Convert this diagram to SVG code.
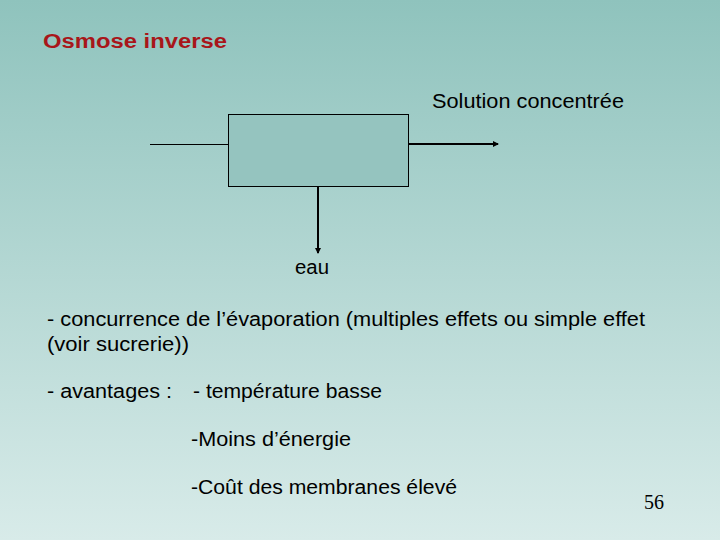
<svg xmlns="http://www.w3.org/2000/svg" width="720" height="540" viewBox="0 0 720 540">
<defs>
<linearGradient id="bg" x1="0" y1="0" x2="0" y2="1"><stop offset="0" stop-color="#8fc3bd"/><stop offset="1" stop-color="#d8ebe9"/></linearGradient>
<marker id="ah" markerWidth="6" markerHeight="6" refX="5" refY="3" orient="auto" markerUnits="userSpaceOnUse"><path d="M0,0 L6,3 L0,6 Z" fill="#000"/></marker>
<style>
text{font-family:"Liberation Sans",Arial,sans-serif;fill:#000;font-size:20px}
.c{stroke:#000;fill:none}
</style>
</defs>
<rect width="720" height="540" fill="url(#bg)"/>
<text x="43" y="48" font-size="22" font-weight="bold" textLength="184" lengthAdjust="spacingAndGlyphs" style="fill:#a8161a">Osmose inverse</text>
<g id="box"><rect x="228.5" y="114.5" width="180" height="72" fill="#95c4bf" stroke="#000" stroke-width="1"/></g>
<g id="connectors">
<line class="c" x1="150" y1="144.5" x2="228" y2="144.5" stroke-width="1"/>
<line class="c" x1="409" y1="144" x2="498" y2="144" stroke-width="2" marker-end="url(#ah)"/>
<line class="c" x1="318" y1="187" x2="318" y2="253" stroke-width="2" marker-end="url(#ah)"/>
</g>
<g id="labels">
<text x="432" y="108" textLength="192" lengthAdjust="spacingAndGlyphs">Solution concentrée</text>
<text x="295" y="274" textLength="34" lengthAdjust="spacingAndGlyphs">eau</text>
</g>
<text x="47" y="326" textLength="598" lengthAdjust="spacingAndGlyphs">- concurrence de l’évaporation (multiples effets ou simple effet</text>
<text x="47" y="351" textLength="142" lengthAdjust="spacingAndGlyphs">(voir sucrerie))</text>
<text x="47" y="398" textLength="125" lengthAdjust="spacingAndGlyphs">- avantages :</text>
<text x="193" y="398" textLength="189" lengthAdjust="spacingAndGlyphs">- température basse</text>
<text x="191" y="446" textLength="160" lengthAdjust="spacingAndGlyphs">-Moins d’énergie</text>
<text x="191" y="494" textLength="266" lengthAdjust="spacingAndGlyphs">-Coût des membranes élevé</text>
<text x="644" y="509" font-size="14" style="font-family:'Liberation Serif',serif">56</text>
</svg>
